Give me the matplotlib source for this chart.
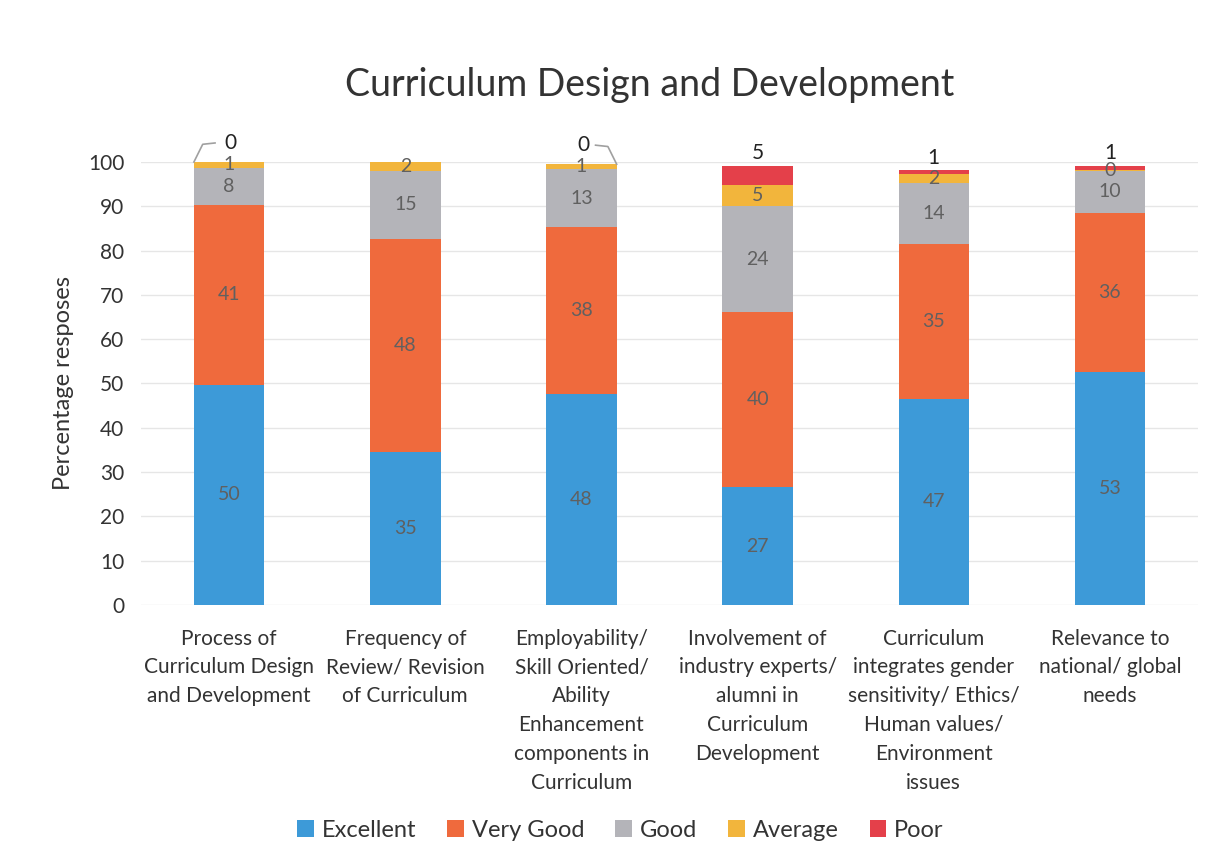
import numpy as np
import matplotlib
matplotlib.use('Agg')
import matplotlib.pyplot as plt

plt.rcParams['font.family'] = ['Lato', 'DejaVu Sans']

categories = [
    "Process of\nCurriculum Design\nand Development",
    "Frequency of\nReview/ Revision\nof Curriculum",
    "Employability/\nSkill Oriented/\nAbility\nEnhancement\ncomponents in\nCurriculum",
    "Involvement of\nindustry experts/\nalumni in\nCurriculum\nDevelopment",
    "Curriculum\nintegrates gender\nsensitivity/ Ethics/\nHuman values/\nEnvironment\nissues",
    "Relevance to\nnational/ global\nneeds",
]

# values (percent of responses)
excellent = [49.7, 34.6, 47.6, 26.6, 46.6, 52.5]
very_good = [40.6, 48.1, 37.7, 39.5, 34.8, 36.0]
good = [8.4, 15.2, 13.1, 24.0, 13.8, 9.5]
average = [1.3, 2.1, 1.1, 4.6, 2.2, 0.3]
poor = [0.0, 0.0, 0.0, 4.5, 0.7, 0.9]

series = [
    ("Excellent", excellent, "#3d9ad8"),
    ("Very Good", very_good, "#ef6a3d"),
    ("Good", good, "#b4b4b9"),
    ("Average", average, "#f2b53c"),
    ("Poor", poor, "#e4404a"),
]


def lbl(v):
    return str(int(v + 0.5))


fig = plt.figure(figsize=(12.17, 8.65), dpi=100)
ax = fig.add_axes([0.1159, 0.3006, 0.8685, 0.5121])

x = np.arange(len(categories))
width = 0.4
bottom = np.zeros(len(categories))

for name, vals, col in series:
    vals = np.array(vals)
    ax.bar(x, vals, width, bottom=bottom, color=col, label=name, zorder=3)
    if name != "Poor":
        for i in range(len(x)):
            ax.text(x[i], bottom[i] + vals[i] / 2, lbl(vals[i]), ha='center', va='center',
                    fontsize=14, color='#606060', zorder=4)
    bottom += vals

# poor labels: above the bar, or with a leader line when the value is zero
top = bottom
for i in range(len(x)):
    if poor[i] > 0:
        ax.annotate(lbl(poor[i]), (x[i], top[i]), xytext=(0, 2), textcoords='offset points',
                    ha='center', va='bottom', fontsize=15, color='#222222', annotation_clip=False)
for i, side in [(0, -1), (2, 1)]:
    cx = x[i] + side * width / 2
    ax.plot([cx, cx - side * 0.05, cx - side * 0.12], [top[i], top[i] + 4.0, top[i] + 4.3],
            color='#a0a0a0', lw=1.2, clip_on=False, zorder=4)
    ax.text(x[i] + 0.01, top[i] + 4.4, lbl(poor[i]), ha='center', va='center',
            fontsize=15, color='#222222')

ax.set_xlim(-0.5, len(categories) - 0.5)
ax.set_ylim(0, 100)
ax.set_yticks(range(0, 101, 10))
ax.yaxis.grid(True, color='#e6e6e6', lw=1, zorder=0)
for s in ax.spines.values():
    s.set_visible(False)
ax.tick_params(axis='both', length=0, labelsize=15, colors='#333333')
ax.tick_params(axis='y', pad=12)
ax.set_xticks(x)
ax.set_xticklabels(categories, fontsize=15, va='top')
for t in ax.get_xticklabels():
    t.set_linespacing(1.55)
ax.tick_params(axis='x', pad=17)
ax.set_ylabel("Percentage resposes", fontsize=17, color='#333333', labelpad=10)

fig.text(0.534, 0.902, "Curriculum Design and Development", ha='center', va='center',
         fontsize=27, color='#333333')

fig.legend(loc='center', bbox_to_anchor=(0.51, 0.04), ncol=5, frameon=False,
           fontsize=17, handlelength=0.7, handleheight=0.7, handletextpad=0.35,
           columnspacing=1.3, labelcolor='#333333')

fig.savefig("out.png", dpi=100)
